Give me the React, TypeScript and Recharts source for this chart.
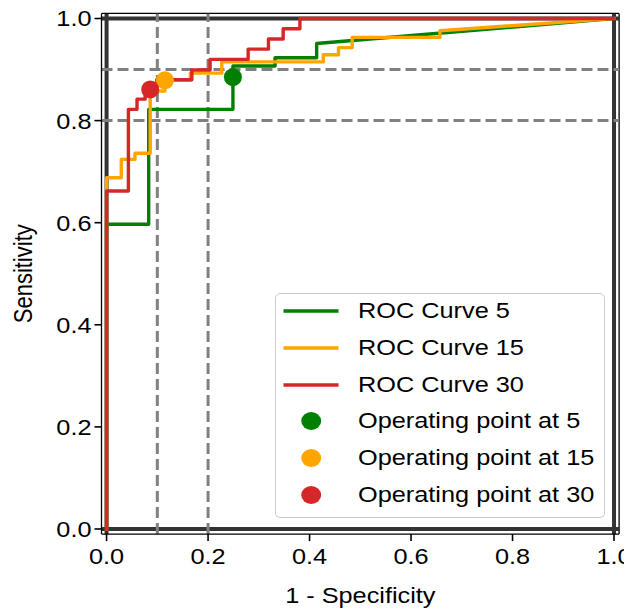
import React from "react";
import { ComposedChart, Line, Scatter, XAxis, YAxis, ReferenceLine } from "recharts";

// ROC curve 5 (green)
const roc5Fpr = [0, 0, 0.083, 0.083, 0.249, 0.249, 0.332, 0.332, 0.414, 0.414, 1.0];
const roc5Tpr = [0, 0.597, 0.597, 0.822, 0.822, 0.907, 0.907, 0.923, 0.923, 0.951, 1.0];

// ROC curve 15 (orange)
const roc15Fpr = [0, 0, 0.029, 0.029, 0.056, 0.056, 0.086, 0.086, 0.115, 0.115, 0.165, 0.165, 0.227, 0.227, 0.427, 0.427, 0.457, 0.457, 0.484, 0.484, 0.657, 0.657, 1.0];
const roc15Tpr = [0, 0.688, 0.688, 0.724, 0.724, 0.736, 0.736, 0.858, 0.858, 0.879, 0.879, 0.893, 0.893, 0.915, 0.915, 0.929, 0.929, 0.943, 0.943, 0.963, 0.963, 0.976, 1.0];

// ROC curve 30 (red)
const roc30Fpr = [0, 0, 0.043, 0.043, 0.06, 0.06, 0.076, 0.076, 0.099, 0.099, 0.168, 0.168, 0.204, 0.204, 0.279, 0.279, 0.319, 0.319, 0.348, 0.348, 0.381, 0.381, 1.0];
const roc30Tpr = [0, 0.662, 0.662, 0.822, 0.822, 0.842, 0.842, 0.861, 0.861, 0.88, 0.88, 0.899, 0.899, 0.92, 0.92, 0.94, 0.94, 0.96, 0.96, 0.98, 0.98, 1.0, 1.0];

// Operating points (5, 15, 30)
const opFpr = [0.249, 0.115, 0.086];
const opTpr = [0.885, 0.879, 0.861];

const curveLabels = ["ROC Curve 5", "ROC Curve 15", "ROC Curve 30"];
const pointLabels = ["Operating point at 5", "Operating point at 15", "Operating point at 30"];

const ticks = [0, 0.2, 0.4, 0.6, 0.8, 1.0];
const axisMin = -0.01;
const axisMax = 1.01;
const boxLines = [0, 1];
const refXs = [0.1, 0.2];
const refYs = [0.8, 0.9];

const GREEN = "#008000";
const ORANGE = "#ffa500";
const RED = "#d62728";
const colors = [GREEN, ORANGE, RED];

const FONT = "'Liberation Sans', Arial, sans-serif";
const FS = 22;
const SX = 1.15;

const toPts = (xs: number[], ys: number[]) => xs.map((x, i) => ({ x, y: ys[i] }));

const curves = [toPts(roc5Fpr, roc5Tpr), toPts(roc15Fpr, roc15Tpr), toPts(roc30Fpr, roc30Tpr)];

const XTick = (props: any) => {
  const { x, y, payload } = props;
  return (
    <g transform={`translate(${x},${y})`}>
      <text transform={`scale(${SX},1)`} x={0} y={22} textAnchor="middle" fontSize={FS} fontFamily={FONT} fill="#000">
        {Number(payload.value).toFixed(1)}
      </text>
    </g>
  );
};

const YTick = (props: any) => {
  const { x, y, payload } = props;
  return (
    <g transform={`translate(${x},${y})`}>
      <text transform={`scale(${SX},1)`} x={0} y={7.9} textAnchor="end" fontSize={FS} fontFamily={FONT} fill="#000">
        {Number(payload.value).toFixed(1)}
      </text>
    </g>
  );
};

const XTitle = (props: any) => {
  const vb = props.viewBox || { x: 0, width: 0 };
  const cx = vb.x + vb.width / 2;
  return (
    <g transform={`translate(${cx},594.5)`}>
      <text transform={`scale(${SX},1)`} x={0} y={0} textAnchor="middle" fontSize={FS} fontFamily={FONT} fill="#000">
        1 - Specificity
      </text>
    </g>
  );
};

const YTitle = (props: any) => {
  const vb = props.viewBox || { y: 0, height: 0 };
  const cy = vb.y + vb.height / 2;
  return (
    <g transform={`translate(17,${cy}) scale(${SX},1) rotate(-90)`}>
      <text x={0} y={6} textAnchor="middle" fontSize={FS} fontFamily={FONT} fill="#000">
        Sensitivity
      </text>
    </g>
  );
};

const Dot = (color: string) => (props: any) => (
  <circle cx={props.cx} cy={props.cy} r={9} fill={color} stroke="none" />
);

const LegendBox = () => {
  const rowTop = [19, 55.7, 92.4, 129.1, 165.8, 202.5];
  const rows = [
    ...curveLabels.map((l, i) => ({ label: l, color: colors[i], kind: "line" })),
    ...pointLabels.map((l, i) => ({ label: l, color: colors[i], kind: "dot" })),
  ];
  return (
    <div
      style={{
        position: "absolute",
        left: 267,
        top: 284.7,
        width: 330,
        height: 225.3,
        boxSizing: "border-box",
        border: "1.5px solid #cccccc",
        borderRadius: 5,
        background: "rgba(255,255,255,0.85)",
        fontFamily: FONT,
        fontSize: FS,
        color: "#000",
      }}
    >
      {rows.map((r, i) => (
        <div key={i} style={{ position: "absolute", left: 0, top: rowTop[i] - 1.5 - 11, height: 22, width: 320 }}>
          <svg width={72} height={22} style={{ position: "absolute", left: 0, top: 0 }}>
            {r.kind === "line" ? (
              <line x1={7.5} x2={62.5} y1={11} y2={11} stroke={r.color} strokeWidth={3.6} />
            ) : (
              <ellipse cx={35.2} cy={11} rx={10} ry={9} fill={r.color} />
            )}
          </svg>
          <span
            style={{
              position: "absolute",
              left: 81.8,
              top: 0,
              lineHeight: "22px",
              whiteSpace: "nowrap",
              transform: `scaleX(${SX})`,
              transformOrigin: "left center",
            }}
          >
            {r.label}
          </span>
        </div>
      ))}
    </div>
  );
};

export default function App() {
  return (
    <div style={{ position: "relative", width: 616, height: 604 }}>
      <ComposedChart width={616} height={604} margin={{ top: 5.4, right: 4.9, bottom: 47.9, left: 0 }}>
        <XAxis
          type="number"
          dataKey="x"
          domain={[axisMin, axisMax]}
          ticks={ticks}
          allowDataOverflow
          height={30}
          tickSize={7}
          tickMargin={1}
          tick={<XTick />}
          axisLine={{ stroke: "#000", strokeWidth: 1.3 }}
          tickLine={{ stroke: "#000", strokeWidth: 1.6 }}
          label={<XTitle />}
        />
        <YAxis
          type="number"
          dataKey="y"
          domain={[axisMin, axisMax]}
          ticks={ticks}
          allowDataOverflow
          width={93.5}
          tickSize={7}
          tickMargin={3}
          tick={<YTick />}
          axisLine={{ stroke: "#000", strokeWidth: 1.3 }}
          tickLine={{ stroke: "#000", strokeWidth: 1.6 }}
          label={<YTitle />}
        />
        <ReferenceLine y={axisMax} stroke="#000" strokeWidth={1.3} />
        <ReferenceLine x={axisMax} stroke="#000" strokeWidth={1.3} />
        {boxLines.map((v) => (
          <Line
            key={"bx" + v}
            data={[{ x: v, y: axisMin }, { x: v, y: axisMax }]}
            dataKey="y"
            stroke="#333333"
            strokeWidth={4}
            dot={false}
            isAnimationActive={false}
            type="linear"
          />
        ))}
        {boxLines.map((v) => (
          <Line
            key={"by" + v}
            data={[{ x: axisMin, y: v }, { x: axisMax, y: v }]}
            dataKey="y"
            stroke="#333333"
            strokeWidth={4}
            dot={false}
            isAnimationActive={false}
            type="linear"
          />
        ))}
        {refXs.map((v) => (
          <Line
            key={"rx" + v}
            data={[{ x: v, y: axisMin }, { x: v, y: axisMax }]}
            dataKey="y"
            stroke="#808080"
            strokeWidth={3}
            strokeDasharray="11 5"
            dot={false}
            isAnimationActive={false}
            type="linear"
          />
        ))}
        {refYs.map((v) => (
          <Line
            key={"ry" + v}
            data={[{ x: axisMin, y: v }, { x: axisMax, y: v }]}
            dataKey="y"
            stroke="#808080"
            strokeWidth={3}
            strokeDasharray="11 5"
            dot={false}
            isAnimationActive={false}
            type="linear"
          />
        ))}
        {curves.map((pts, i) => (
          <Line
            key={"c" + i}
            data={pts}
            dataKey="y"
            name={curveLabels[i]}
            stroke={colors[i]}
            strokeWidth={3.4}
            strokeLinejoin="round"
            strokeLinecap="square"
            dot={false}
            isAnimationActive={false}
            type="linear"
          />
        ))}
        {opFpr.map((fx, i) => (
          <Scatter
            key={"p" + i}
            data={[{ x: fx, y: opTpr[i] }]}
            name={pointLabels[i]}
            fill={colors[i]}
            shape={Dot(colors[i])}
            isAnimationActive={false}
          />
        ))}
      </ComposedChart>
      <LegendBox />
    </div>
  );
}
